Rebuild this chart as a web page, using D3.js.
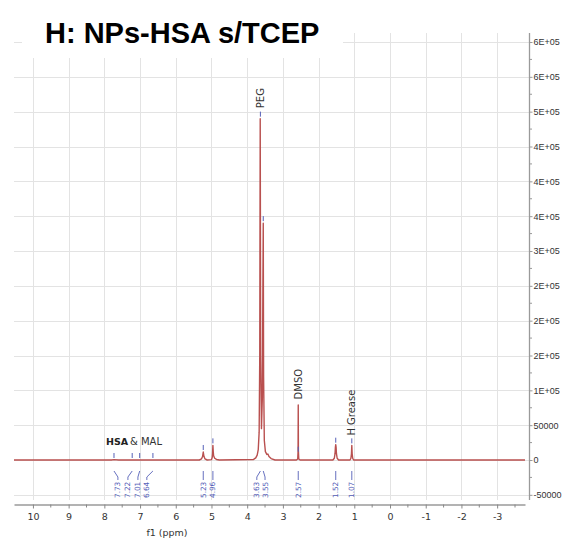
<!DOCTYPE html>
<html>
<head>
<meta charset="utf-8">
<script src="https://cdn.jsdelivr.net/npm/d3@7"></script>
<style>
  html, body { margin: 0; padding: 0; background: #fff; }
  svg { display: block; }
</style>
</head>
<body>
<svg id="chart" width="572" height="540"></svg>
<script>
// ---------- data ----------
const titleText = "H: NPs-HSA s/TCEP";
const xTicks = [10, 9, 8, 7, 6, 5, 4, 3, 2, 1, 0, -1, -2, -3];
const xTickLabels = ["10", "9", "8", "7", "6", "5", "4", "3", "2", "1", "0", "-1", "-2", "-3"];
const xAxisTitle = "f1 (ppm)";
const yTickValues = [-50000, 0, 50000, 100000, 150000, 200000, 250000, 300000, 350000, 400000, 450000, 500000, 550000, 600000];
const yTickLabels = ["-50000", "0", "50000", "1E+05", "2E+05", "2E+05", "2E+05", "3E+05", "4E+05", "4E+05", "4E+05", "5E+05", "6E+05", "6E+05"];

// spectrum vertices (ppm, intensity)
const specPpm = [10.53, 7.80, 7.73, 7.60, 5.34, 5.28, 5.25, 5.23, 5.21, 5.18, 5.12, 5.00, 4.98, 4.97, 4.96, 4.95, 4.94, 4.91, 4.86, 4.78,
  3.82, 3.76, 3.72, 3.69, 3.665, 3.648, 3.635, 3.622, 3.60, 3.575, 3.56, 3.55, 3.54, 3.52, 3.49, 3.45, 3.42, 3.39, 3.33, 3.22,
  2.62, 2.585, 2.575, 2.57, 2.565, 2.555, 2.52, 1.60, 1.56, 1.54, 1.53, 1.52, 1.51, 1.50, 1.48, 1.44,
  1.12, 1.095, 1.08, 1.07, 1.06, 1.045, 1.02, -3.78];
const specInt = [0, 0, 500, 0, 0, 1500, 5000, 11500, 5000, 1500, 0, 500, 3500, 9000, 21000, 12000, 6000, 2500, 800, 0,
  800, 3000, 7000, 15000, 40000, 150000, 490000, 150000, 45000, 90000, 250000, 340000, 120000, 28000, 12000, 8000, 8500, 5000, 2000, 0,
  0, 1500, 12000, 79000, 12000, 1500, 0, 0, 2500, 9000, 18000, 22000, 18000, 9000, 2500, 0,
  0, 2500, 9000, 21000, 9000, 2500, 0, 0];

// peak picks
const peakPpm = [7.73, 7.22, 7.01, 6.64, 5.23, 4.96, 3.63, 3.55, 2.57, 1.52, 1.07];
const peakMarkerInt = [0, 0, 0, 0, 11500, 21000, 490000, 340000, 9000, 22000, 21000];
const peakLabels = ["7.73", "7.22", "7.01", "6.64", "5.23", "4.96", "3.63", "3.55", "2.57", "1.52", "1.07"];
const peakLabelPpm = [7.62, 7.34, 7.06, 6.81, 5.23, 4.96, 3.73, 3.50, 2.57, 1.52, 1.07];

// annotations
const annoText = ["PEG", "DMSO", "H Grease"];
const annoPpm = [3.63, 2.57, 1.07];
const annoInt = [505000, 87000, 35000];

// ---------- layout ----------
const svg = d3.select("#chart");
const X0 = 14, X1 = 525, AXX = 529, AXTOP = 33, AXBOT = 500, XAXY = 504;
const x = d3.scaleLinear().domain([10.53, -3.78]).range([X0, X1]);
const y = d3.scaleLinear().domain([0, 600000]).range([460, 42]);
const grid = "#e3e3e3";
const blue = "#5560b8";
const red = "#b9504f";

// horizontal gridlines
svg.append("g").selectAll("line").data(yTickValues).join("line")
  .attr("x1", X0).attr("x2", AXX)
  .attr("y1", d => Math.round(y(d)) + 0.5).attr("y2", d => Math.round(y(d)) + 0.5)
  .attr("stroke", grid).attr("stroke-width", 1);
// vertical gridlines
svg.append("g").selectAll("line").data(xTicks).join("line")
  .attr("x1", d => Math.round(x(d)) + 0.5).attr("x2", d => Math.round(x(d)) + 0.5)
  .attr("y1", AXTOP).attr("y2", AXBOT)
  .attr("stroke", grid).attr("stroke-width", 1);

// title box + title
svg.append("rect").attr("x", 22).attr("y", 0).attr("width", 321).attr("height", 58).attr("fill", "#fff");
svg.append("text").attr("x", 45).attr("y", 43)
  .attr("font-family", "Liberation Sans, Arial, sans-serif").attr("font-weight", "bold")
  .attr("font-size", 29).attr("fill", "#000").text(titleText);

// spectrum
const specData = specPpm.map((p, i) => [p, specInt[i]]);
svg.append("path").datum(specData)
  .attr("d", d3.line().x(d => x(d[0])).y(d => y(d[1])))
  .attr("fill", "none").attr("stroke", red).attr("stroke-width", 1.4)
  .attr("stroke-linejoin", "round");

// peak markers
svg.append("g").selectAll("line").data(peakPpm).join("line")
  .attr("x1", d => x(d)).attr("x2", d => x(d))
  .attr("y1", (d, i) => y(peakMarkerInt[i]) - 7).attr("y2", (d, i) => y(peakMarkerInt[i]) - 2)
  .attr("stroke", blue).attr("stroke-width", 1);

// peak label connectors
svg.append("g").selectAll("path").data(peakPpm).join("path")
  .attr("d", (d, i) => {
    const px = x(d), lx = x(peakLabelPpm[i]);
    return `M${px},471 L${lx},477 L${lx},480`;
  })
  .attr("fill", "none").attr("stroke", blue).attr("stroke-width", 0.9);
// peak labels
svg.append("g").selectAll("text").data(peakLabels).join("text")
  .attr("transform", (d, i) => `translate(${x(peakLabelPpm[i])},498) rotate(-90)`)
  .attr("dy", "0.35em")
  .attr("font-family", "DejaVu Sans, sans-serif").attr("font-size", 7.3)
  .attr("fill", blue).text(d => d);

// annotations
svg.append("g").selectAll("text").data(annoText).join("text")
  .attr("transform", (d, i) => `translate(${x(annoPpm[i])},${y(annoInt[i])}) rotate(-90)`)
  .attr("dy", "0.35em")
  .attr("font-family", "DejaVu Sans, sans-serif").attr("font-size", 10)
  .attr("fill", "#333").text(d => d);

svg.append("text").attr("x", 106).attr("y", 445)
  .attr("font-family", "DejaVu Sans, sans-serif").attr("font-size", 9.5).attr("font-weight", "bold")
  .attr("fill", "#222").text("HSA");
svg.append("text").attr("x", 130).attr("y", 445)
  .attr("font-family", "DejaVu Sans, sans-serif").attr("font-size", 10)
  .attr("fill", "#333").text("& MAL");

// y axis (right)
svg.append("line").attr("x1", AXX + 0.5).attr("x2", AXX + 0.5).attr("y1", AXTOP).attr("y2", AXBOT)
  .attr("stroke", "#9a9a9a").attr("stroke-width", 1.3);
const yAxis = d3.axisRight(y).tickValues(yTickValues)
  .tickFormat((d, i) => yTickLabels[i]).tickSize(3).tickPadding(1);
const gy = svg.append("g").attr("transform", `translate(${AXX + 0.5},0)`).call(yAxis);
gy.select(".domain").remove();
gy.selectAll(".tick line").attr("stroke", "#999");
gy.selectAll(".tick text").attr("font-family", "Liberation Sans, Arial, sans-serif")
  .attr("font-size", 9).attr("fill", "#333");
const yMinor = yTickValues.slice(0, -1).map((v, i) => (v + yTickValues[i + 1]) / 2);
svg.append("g").selectAll("line").data(yMinor).join("line")
  .attr("x1", AXX + 0.5).attr("x2", AXX + 3)
  .attr("y1", d => y(d)).attr("y2", d => y(d)).attr("stroke", "#999");

// x axis (bottom)
const xAxis = d3.axisBottom(x).tickValues(xTicks)
  .tickFormat((d, i) => xTickLabels[i]).tickSize(4).tickPadding(5).tickSizeOuter(0);
const gx = svg.append("g").attr("transform", `translate(0,${XAXY + 0.5})`).call(xAxis);
gx.select(".domain").attr("stroke", "#9a9a9a").attr("stroke-width", 1.3);
gx.selectAll(".tick line").attr("stroke", "#888");
gx.selectAll(".tick text").attr("font-family", "DejaVu Sans, sans-serif")
  .attr("font-size", 9.5).attr("fill", "#333");
const xMinor = xTicks.slice(0, -1).map((v, i) => (v + xTicks[i + 1]) / 2).concat([-3.5]);
svg.append("g").selectAll("line").data(xMinor).join("line")
  .attr("x1", d => x(d)).attr("x2", d => x(d))
  .attr("y1", XAXY + 0.5).attr("y2", XAXY + 3.5).attr("stroke", "#888");

svg.append("text").attr("x", 167).attr("y", 536).attr("text-anchor", "middle")
  .attr("font-family", "DejaVu Sans, sans-serif").attr("font-size", 9.5)
  .attr("fill", "#333").text(xAxisTitle);
</script>
</body>
</html>
